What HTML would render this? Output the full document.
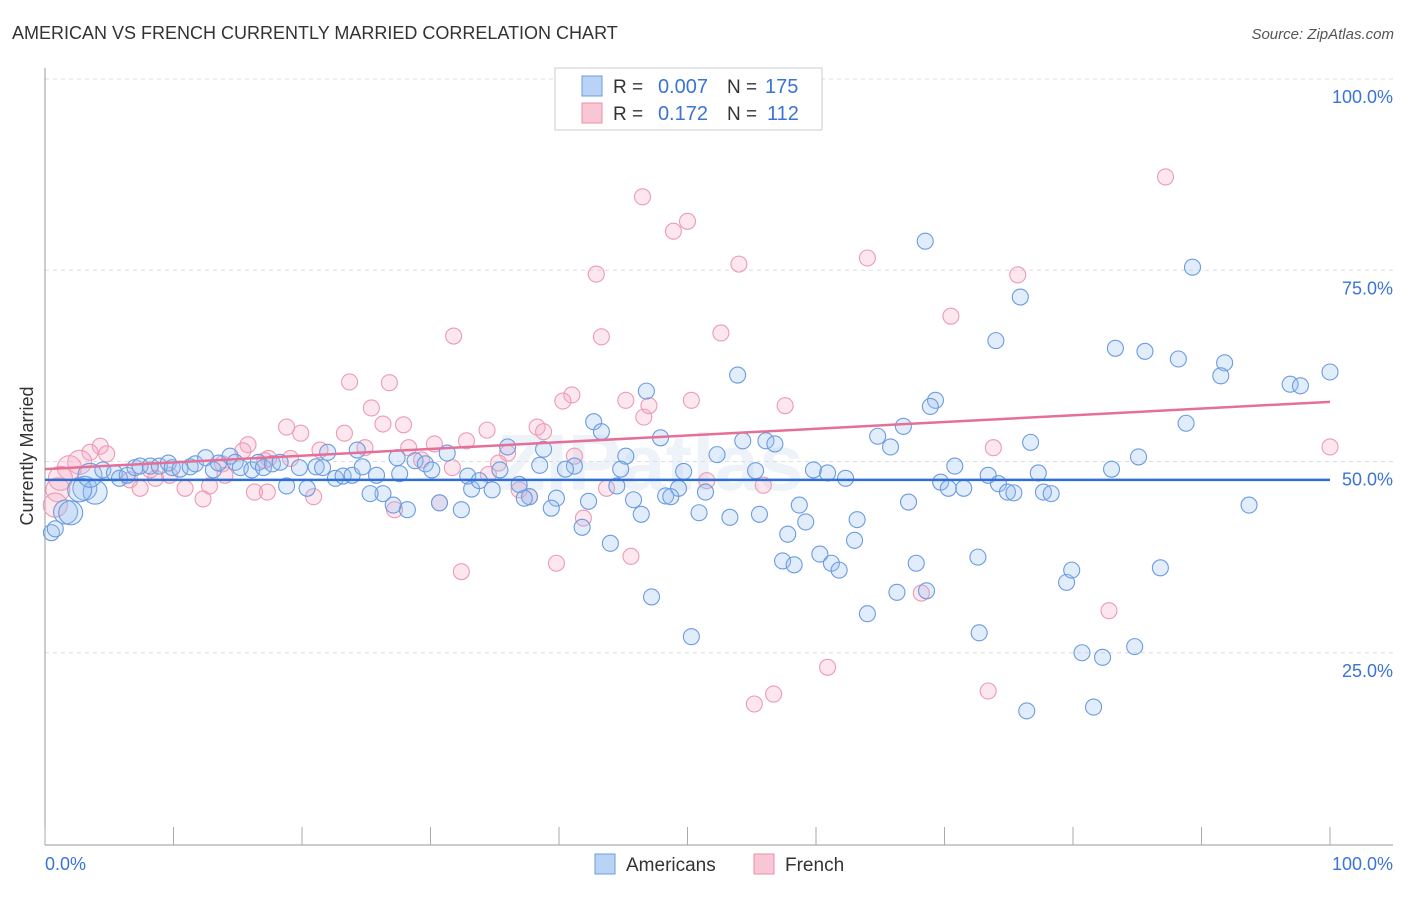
<!DOCTYPE html>
<html><head><meta charset="utf-8"><style>
body{margin:0;background:#fff;font-family:"Liberation Sans",sans-serif}
</style></head><body>
<svg width="1406" height="892" xmlns="http://www.w3.org/2000/svg" style="font-family:'Liberation Sans',sans-serif">
<text x="12" y="39" font-size="18" fill="#333">AMERICAN VS FRENCH CURRENTLY MARRIED CORRELATION CHART</text>
<text x="1394" y="39" font-size="15" fill="#555" font-style="italic" text-anchor="end">Source: ZipAtlas.com</text>
<text x="650" y="490" font-size="80" fill="#dfe9f6" font-weight="bold" text-anchor="middle" opacity="0.5">ZIPatlas</text>
<text transform="translate(33,456) rotate(-90)" font-size="18" fill="#333" text-anchor="middle">Currently Married</text>
<g id="grid"></g>
<g id="pts"></g>
<g id="lines"></g>
<g>
<rect x="555" y="68" width="267" height="62" fill="#fff" stroke="#ccc"/>
<rect x="582" y="76" width="20" height="20" fill="#b8d3f5" stroke="#6b9de0"/>
<rect x="582" y="103" width="20" height="20" fill="#f9c6d5" stroke="#ec8fab"/>
<text x="613" y="93" font-size="19" fill="#333">R =</text>
<text x="708" y="93" font-size="20" fill="#3a74d6" text-anchor="end">0.007</text>
<text x="727" y="93" font-size="19" fill="#333">N =</text>
<text x="765" y="93" font-size="20" fill="#3a74d6">175</text>
<text x="613" y="120" font-size="19" fill="#333">R =</text>
<text x="708" y="120" font-size="20" fill="#3a74d6" text-anchor="end">0.172</text>
<text x="727" y="120" font-size="19" fill="#333">N =</text>
<text x="767" y="120" font-size="20" fill="#3a74d6">112</text>
</g>
<g>
<rect x="595" y="854" width="20" height="20" fill="#b8d3f5" stroke="#6b9de0"/>
<text x="626" y="871" font-size="19" fill="#333">Americans</text>
<rect x="754" y="854" width="20" height="20" fill="#f9c6d5" stroke="#ec8fab"/>
<text x="785" y="871" font-size="19" fill="#333">French</text>
</g>
</svg>
<script>
const yTicks=[25,50,75,100];
const yTickLabels=["25.0%","50.0%","75.0%","100.0%"];
const xTicks=[0,10,20,30,40,50,60,70,80,90,100];
const blueX=[68.5,89.3,75.9,74.0,83.3,85.6,88.2,91.8,91.5,100,96.9,97.7,53.9,46.8,69.3,68.9,88.8,66.8,42.7,43.3,64.8,65.8,47.9,54.3,56.1,56.8,76.7,85.1,36.0,38.8,52.3,45.2,31.3,27.4,22.0,24.3,55.3,59.8,60.9,62.3,49.7,44.8,41.2,40.5,38.5,70.8,69.7,70.3,71.5,73.4,74.2,74.9,75.4,77.3,77.7,78.3,83.0,93.7,67.2,49.3,51.4,48.3,48.7,45.8,44.5,58.7,59.2,63.2,63.0,55.6,53.3,50.9,46.4,42.3,41.8,39.8,39.4,37.7,37.3,34.8,33.2,32.4,30.7,28.2,27.1,26.3,25.3,44.0,47.2,50.3,57.8,57.4,58.3,60.3,61.2,61.8,64.0,66.3,67.8,68.6,72.6,72.7,76.4,79.5,79.9,80.7,81.6,82.3,84.8,86.8,0.5,0.8,1.6,2.0,3.1,3.9,2.7,3.5,4.5,5.4,5.8,6.4,7.0,7.4,8.2,8.9,9.6,9.9,10.5,11.3,11.7,12.5,13.1,13.5,14.4,14.8,15.2,16.1,16.6,17.0,17.7,18.3,18.8,19.8,20.4,21.1,21.6,22.6,23.2,23.9,24.7,25.8,27.6,28.8,29.6,30.1,32.9,33.8,36.9,35.4];
const blueY=[78.8,75.4,71.5,65.8,64.8,64.4,63.4,62.9,61.2,61.7,60.1,59.9,61.3,59.2,58.0,57.2,55.0,54.6,55.2,53.9,53.3,51.9,53.1,52.7,52.7,52.3,52.5,50.6,51.9,51.6,50.9,50.7,51.1,50.5,51.2,51.5,48.8,48.9,48.5,47.8,48.7,49.0,49.4,49.0,49.5,49.4,47.3,46.5,46.5,48.2,47.1,46.0,45.9,48.5,46.0,45.8,49.0,44.3,44.7,46.5,46.0,45.5,45.4,45.0,46.8,44.3,42.1,42.4,39.7,43.1,42.7,43.3,43.1,44.8,41.4,45.2,43.9,45.4,45.2,46.3,46.4,43.7,44.6,43.7,44.3,45.8,45.8,39.3,32.3,27.1,40.5,37.0,36.5,37.9,36.7,35.8,30.1,32.9,36.7,33.1,37.5,27.6,17.4,34.2,35.8,25.0,17.9,24.4,25.8,36.1,40.7,41.2,43.4,43.3,46.5,46.0,46.3,48.2,48.9,48.5,47.8,48.2,49.2,49.4,49.4,49.4,49.8,49.2,49.0,49.3,49.7,50.5,48.9,49.8,50.7,49.9,49.2,48.9,49.9,49.2,49.7,49.9,46.8,49.2,46.5,49.3,49.2,47.8,48.1,48.2,49.3,48.2,48.4,50.1,49.7,48.9,48.1,47.5,47.0,48.9];
const pinkX=[87.2,46.5,50.0,48.9,64.0,54.0,42.9,75.7,70.5,31.8,52.6,43.3,23.7,26.8,41.0,40.3,45.2,47.0,50.3,57.6,46.6,25.4,26.3,27.9,18.8,19.9,23.3,34.4,38.3,38.8,32.8,30.3,28.3,24.9,21.4,15.8,15.4,73.8,100,41.2,36.0,35.3,34.5,31.7,29.3,19.1,17.4,13.8,4.3,3.5,4.8,2.7,1.9,1.2,1.0,0.8,7.4,8.6,10.9,12.3,12.8,14.0,16.3,17.3,20.9,17.1,30.7,27.2,36.9,37.7,41.9,43.7,51.5,55.9,32.4,39.8,45.6,68.2,82.8,60.9,56.7,55.2,73.4,9.7,6.6,8.2];
const pinkY=[87.2,84.6,81.4,80.1,76.6,75.8,74.5,74.4,69.0,66.4,66.8,66.3,60.4,60.3,58.7,57.9,58.0,57.3,58.0,57.3,55.8,57.0,54.9,54.8,54.5,53.7,53.7,54.1,54.5,53.9,52.7,52.3,51.8,51.8,51.5,52.2,51.4,51.8,51.9,50.7,51.1,49.8,48.3,49.2,50.2,50.4,50.4,49.7,52.0,51.2,51.0,49.9,49.2,47.8,46.3,44.3,46.5,47.8,46.5,45.1,46.8,48.2,46.0,46.0,45.4,50.1,44.6,43.7,46.3,45.4,42.6,46.5,47.5,46.9,35.6,36.7,37.6,32.8,30.5,23.1,19.6,18.3,20.0,48.2,47.6,48.9];
const blueTrend=[47.6,47.6];
const pinkTrend=[49.0,57.8];
const NS="http://www.w3.org/2000/svg";
function xs(v){return 45+v*12.85;}
function ys(v){return 844-v*7.65;}
function mk(t,a,p){const e=document.createElementNS(NS,t);for(const k in a)e.setAttribute(k,a[k]);p.appendChild(e);return e;}
const grid=document.getElementById('grid');
yTicks.forEach((t,i)=>{
 const l=mk('line',{x1:45,x2:1393,y1:ys(t),y2:ys(t),stroke:'#ddd','stroke-dasharray':'4,4'},grid);
 
 
 const tx=mk('text',{x:1393,y:ys(t)+24,'font-size':18,fill:'#3a74d6','text-anchor':'end'},grid);
 tx.textContent=yTickLabels[i];
 
 
});
mk('line',{x1:45,x2:45,y1:68,y2:845,stroke:'#999'},grid);
mk('line',{x1:45,x2:1393,y1:845,y2:845,stroke:'#999'},grid);
xTicks.forEach(t=>{const l=mk('line',{x1:xs(t),x2:xs(t),y1:827,y2:845,stroke:'#aaa'},grid);
 
 });
const xl0=mk('text',{x:45,y:870,'font-size':18,fill:'#3a74d6'},grid);xl0.textContent='0.0%';


const xl1=mk('text',{x:1393,y:870,'font-size':18,fill:'#3a74d6','text-anchor':'end'},grid);xl1.textContent='100.0%';


const pts=document.getElementById('pts');
pinkX.forEach((x,i)=>{const c=mk('circle',{cx:xs(x),cy:ys(pinkY[i]),r:(x<3?12:8),fill:'rgba(246,170,195,0.28)',stroke:'#ee9ab4','stroke-width':1.1},pts);
 
 });
blueX.forEach((x,i)=>{const c=mk('circle',{cx:xs(x),cy:ys(blueY[i]),r:(x<4.5&&x>1.5?12:8),fill:'rgba(150,190,240,0.28)',stroke:'#6b9be0','stroke-width':1.1},pts);
 
 });
const lines=document.getElementById('lines');
const bl=mk('line',{x1:xs(0),x2:xs(100),y1:ys(blueTrend[0]),y2:ys(blueTrend[1]),stroke:'#2f6fd4','stroke-width':2.5},lines);


const pl=mk('line',{x1:xs(0),x2:xs(100),y1:ys(pinkTrend[0]),y2:ys(pinkTrend[1]),stroke:'#e56f97','stroke-width':2.5},lines);


</script>
</body></html>
